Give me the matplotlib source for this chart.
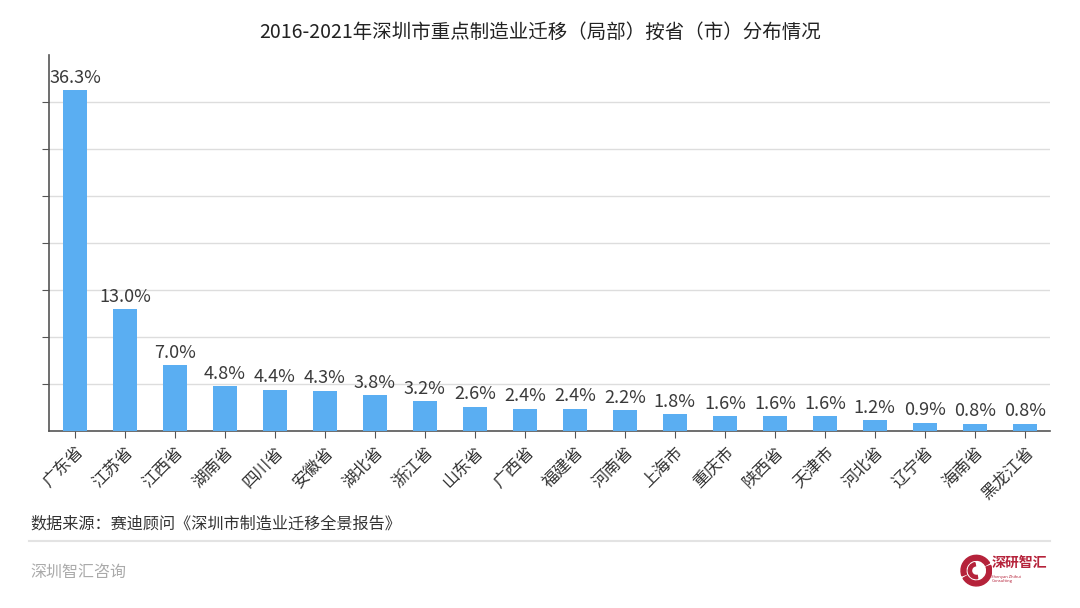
import matplotlib
matplotlib.use("Agg")
import matplotlib.pyplot as plt
import numpy as np
from matplotlib.patches import Circle, Wedge

plt.rcParams["font.family"] = ["Noto Sans CJK SC", "DejaVu Sans"]
plt.rcParams["axes.unicode_minus"] = False

provinces = ["广东省", "江苏省", "江西省", "湖南省", "四川省", "安徽省", "湖北省", "浙江省",
             "山东省", "广西省", "福建省", "河南省", "上海市", "重庆市", "陕西省", "天津市",
             "河北省", "辽宁省", "海南省", "黑龙江省"]
shares = [36.3, 13.0, 7.0, 4.8, 4.4, 4.3, 3.8, 3.2, 2.6, 2.4, 2.4, 2.2, 1.8, 1.6, 1.6, 1.6,
          1.2, 0.9, 0.8, 0.8]
title = "2016-2021年深圳市重点制造业迁移（局部）按省（市）分布情况"
source = "数据来源：赛迪顾问《深圳市制造业迁移全景报告》"

fig = plt.figure(figsize=(10.8, 6.08), dpi=100)
ax = fig.add_axes([0.0454, 0.291, 0.9266, 0.6185])

x = np.arange(len(provinces))
ax.bar(x, shares, width=0.48, color="#5aaef2", zorder=3)
for xi, v in zip(x, shares):
    ax.text(xi, v + 0.35, "%.1f%%" % v, ha="center", va="bottom", fontsize=13, color="#3a3a3a")

ax.set_xlim(-0.52, len(provinces) - 0.5)
ax.set_ylim(0, 40)
ax.set_yticks(np.arange(5, 40, 5))
ax.set_yticklabels([])
ax.grid(axis="y", color="#dddddd", linewidth=1, zorder=0)
ax.set_xticks(x)
ax.set_xticklabels(provinces, rotation=45, ha="right", rotation_mode="anchor", fontsize=12, color="#333333")
ax.tick_params(axis="x", length=5, color="#555555", pad=4)
ax.tick_params(axis="y", length=5, color="#555555")
for s in ["top", "right"]:
    ax.spines[s].set_visible(False)
ax.spines["left"].set_color("#555555")
ax.spines["bottom"].set_color("#555555")
ax.spines["left"].set_linewidth(1.2)
ax.spines["bottom"].set_linewidth(1.2)

fig.text(0.5, 0.947, title, ha="center", va="center", fontsize=14, color="#222222")
fig.text(0.028, 0.139, source, ha="left", va="center", fontsize=11.6, color="#333333")
fig.add_artist(plt.Line2D([0.027, 0.972], [0.110, 0.110], color="#e3e3e3", linewidth=1.5))
fig.text(0.028, 0.058, "深圳智汇咨询", ha="left", va="center", fontsize=11.5, color="#aaaaaa")

# logo
lx = fig.add_axes([0.889, 0.035, 0.03, 0.053])
lx.set_xlim(-1, 1)
lx.set_ylim(-1, 1)
lx.set_aspect("equal")
lx.axis("off")
lx.add_patch(Wedge((0, 0), 0.95, 30, 200, width=0.3, color="#b5223a"))
lx.add_patch(Wedge((0, 0), 0.95, 210, 380, width=0.3, color="#b5223a"))
lx.add_patch(Wedge((0, 0), 0.5, 100, 280, width=0.2, color="#b5223a"))
fig.text(0.918, 0.074, "深研智汇", ha="left", va="center", fontsize=10, color="#b5223a", fontweight="bold")
fig.text(0.918, 0.048, "Shenyan Zhihui\nConsulting", ha="left", va="center", fontsize=3, color="#b5223a")

fig.savefig("out.png", dpi=100)
